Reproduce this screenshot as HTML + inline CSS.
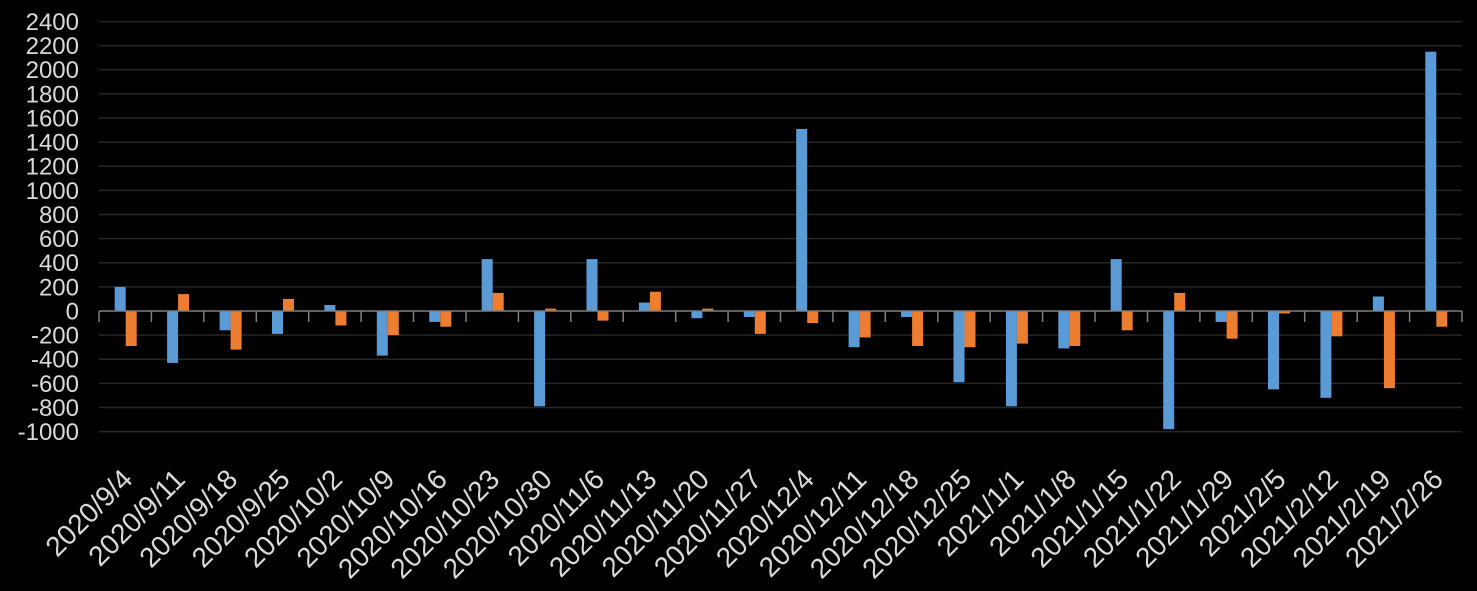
<!DOCTYPE html>
<html><head><meta charset="utf-8"><style>body{margin:0;background:#000}svg{display:block}</style></head>
<body>
<svg width="1477" height="591" xmlns="http://www.w3.org/2000/svg" font-family="Liberation Sans, sans-serif">
<rect width="1477" height="591" fill="#000"/>
<g stroke="#262626" stroke-width="1.5">
<line x1="99" x2="1462" y1="431.6" y2="431.6"/><line x1="99" x2="1462" y1="407.5" y2="407.5"/><line x1="99" x2="1462" y1="383.4" y2="383.4"/><line x1="99" x2="1462" y1="359.2" y2="359.2"/><line x1="99" x2="1462" y1="335.1" y2="335.1"/><line x1="99" x2="1462" y1="286.9" y2="286.9"/><line x1="99" x2="1462" y1="262.8" y2="262.8"/><line x1="99" x2="1462" y1="238.6" y2="238.6"/><line x1="99" x2="1462" y1="214.5" y2="214.5"/><line x1="99" x2="1462" y1="190.4" y2="190.4"/><line x1="99" x2="1462" y1="166.3" y2="166.3"/><line x1="99" x2="1462" y1="142.2" y2="142.2"/><line x1="99" x2="1462" y1="118" y2="118"/><line x1="99" x2="1462" y1="93.9" y2="93.9"/><line x1="99" x2="1462" y1="69.8" y2="69.8"/><line x1="99" x2="1462" y1="45.7" y2="45.7"/><line x1="99" x2="1462" y1="21.6" y2="21.6"/>
</g>
<g font-size="24" fill="#d9d9d9" text-anchor="end">
<text x="79" y="440">-1000</text><text x="79" y="415.9">-800</text><text x="79" y="391.8">-600</text><text x="79" y="367.6">-400</text><text x="79" y="343.5">-200</text><text x="79" y="319.4">0</text><text x="79" y="295.3">200</text><text x="79" y="271.2">400</text><text x="79" y="247">600</text><text x="79" y="222.9">800</text><text x="79" y="198.8">1000</text><text x="79" y="174.7">1200</text><text x="79" y="150.6">1400</text><text x="79" y="126.4">1600</text><text x="79" y="102.3">1800</text><text x="79" y="78.2">2000</text><text x="79" y="54.1">2200</text><text x="79" y="30">2400</text>
</g>
<g fill="#5b9bd5">
<rect x="114.7" y="286.9" width="11" height="24.1"/><rect x="167.1" y="311" width="11" height="51.9"/><rect x="219.6" y="311" width="11" height="19.3"/><rect x="272" y="311" width="11" height="22.9"/><rect x="324.4" y="305" width="11" height="6"/><rect x="376.8" y="311" width="11" height="44.6"/><rect x="429.3" y="311" width="11" height="10.9"/><rect x="481.7" y="259.1" width="11" height="51.9"/><rect x="534.1" y="311" width="11" height="95.3"/><rect x="586.5" y="259.1" width="11" height="51.9"/><rect x="638.9" y="302.6" width="11" height="8.4"/><rect x="691.4" y="311" width="11" height="7.2"/><rect x="743.8" y="311" width="11" height="6"/><rect x="796.2" y="128.9" width="11" height="182.1"/><rect x="848.6" y="311" width="11" height="36.2"/><rect x="901.1" y="311" width="11" height="6"/><rect x="953.5" y="311" width="11" height="71.2"/><rect x="1005.9" y="311" width="11" height="95.3"/><rect x="1058.3" y="311" width="11" height="37.4"/><rect x="1110.7" y="259.1" width="11" height="51.9"/><rect x="1163.2" y="311" width="11" height="118.2"/><rect x="1215.6" y="311" width="11" height="10.9"/><rect x="1268" y="311" width="11" height="78.4"/><rect x="1320.4" y="311" width="11" height="86.8"/><rect x="1372.9" y="296.5" width="11" height="14.5"/><rect x="1425.3" y="51.7" width="11" height="259.3"/>
</g>
<g fill="#ed7d31">
<rect x="125.7" y="311" width="11" height="35"/><rect x="178.1" y="294.1" width="11" height="16.9"/><rect x="230.6" y="311" width="11" height="38.6"/><rect x="283" y="298.9" width="11" height="12.1"/><rect x="335.4" y="311" width="11" height="14.5"/><rect x="387.8" y="311" width="11" height="24.1"/><rect x="440.3" y="311" width="11" height="15.7"/><rect x="492.7" y="292.9" width="11" height="18.1"/><rect x="545.1" y="308.6" width="11" height="2.4"/><rect x="597.5" y="311" width="11" height="9.6"/><rect x="649.9" y="291.7" width="11" height="19.3"/><rect x="702.4" y="308.6" width="11" height="2.4"/><rect x="754.8" y="311" width="11" height="22.9"/><rect x="807.2" y="311" width="11" height="12.1"/><rect x="859.6" y="311" width="11" height="26.5"/><rect x="912.1" y="311" width="11" height="35"/><rect x="964.5" y="311" width="11" height="36.2"/><rect x="1016.9" y="311" width="11" height="32.6"/><rect x="1069.3" y="311" width="11" height="35"/><rect x="1121.7" y="311" width="11" height="19.3"/><rect x="1174.2" y="292.9" width="11" height="18.1"/><rect x="1226.6" y="311" width="11" height="27.7"/><rect x="1279" y="311" width="11" height="2.4"/><rect x="1331.4" y="311" width="11" height="25.3"/><rect x="1383.9" y="311" width="11" height="77.2"/><rect x="1436.3" y="311" width="11" height="15.7"/>
</g>
<g stroke="#7f7f7f" stroke-width="1.5">
<line x1="99" x2="1462" y1="311" y2="311"/>
<line x1="99" x2="99" y1="311" y2="322"/><line x1="151.4" x2="151.4" y1="311" y2="322"/><line x1="203.8" x2="203.8" y1="311" y2="322"/><line x1="256.3" x2="256.3" y1="311" y2="322"/><line x1="308.7" x2="308.7" y1="311" y2="322"/><line x1="361.1" x2="361.1" y1="311" y2="322"/><line x1="413.5" x2="413.5" y1="311" y2="322"/><line x1="466" x2="466" y1="311" y2="322"/><line x1="518.4" x2="518.4" y1="311" y2="322"/><line x1="570.8" x2="570.8" y1="311" y2="322"/><line x1="623.2" x2="623.2" y1="311" y2="322"/><line x1="675.7" x2="675.7" y1="311" y2="322"/><line x1="728.1" x2="728.1" y1="311" y2="322"/><line x1="780.5" x2="780.5" y1="311" y2="322"/><line x1="832.9" x2="832.9" y1="311" y2="322"/><line x1="885.3" x2="885.3" y1="311" y2="322"/><line x1="937.8" x2="937.8" y1="311" y2="322"/><line x1="990.2" x2="990.2" y1="311" y2="322"/><line x1="1042.6" x2="1042.6" y1="311" y2="322"/><line x1="1095" x2="1095" y1="311" y2="322"/><line x1="1147.5" x2="1147.5" y1="311" y2="322"/><line x1="1199.9" x2="1199.9" y1="311" y2="322"/><line x1="1252.3" x2="1252.3" y1="311" y2="322"/><line x1="1304.7" x2="1304.7" y1="311" y2="322"/><line x1="1357.2" x2="1357.2" y1="311" y2="322"/><line x1="1409.6" x2="1409.6" y1="311" y2="322"/><line x1="1462" x2="1462" y1="311" y2="322"/>
</g>
<g font-size="28" fill="#d9d9d9" text-anchor="end">
<text transform="translate(134.2,481) rotate(-45)">2020/9/4</text>
<text transform="translate(186.6,481) rotate(-45)">2020/9/11</text>
<text transform="translate(239.1,481) rotate(-45)">2020/9/18</text>
<text transform="translate(291.5,481) rotate(-45)">2020/9/25</text>
<text transform="translate(343.9,481) rotate(-45)">2020/10/2</text>
<text transform="translate(396.3,481) rotate(-45)">2020/10/9</text>
<text transform="translate(448.8,481) rotate(-45)">2020/10/16</text>
<text transform="translate(501.2,481) rotate(-45)">2020/10/23</text>
<text transform="translate(553.6,481) rotate(-45)">2020/10/30</text>
<text transform="translate(606,481) rotate(-45)">2020/11/6</text>
<text transform="translate(658.4,481) rotate(-45)">2020/11/13</text>
<text transform="translate(710.9,481) rotate(-45)">2020/11/20</text>
<text transform="translate(763.3,481) rotate(-45)">2020/11/27</text>
<text transform="translate(815.7,481) rotate(-45)">2020/12/4</text>
<text transform="translate(868.1,481) rotate(-45)">2020/12/11</text>
<text transform="translate(920.6,481) rotate(-45)">2020/12/18</text>
<text transform="translate(973,481) rotate(-45)">2020/12/25</text>
<text transform="translate(1025.4,481) rotate(-45)">2021/1/1</text>
<text transform="translate(1077.8,481) rotate(-45)">2021/1/8</text>
<text transform="translate(1130.2,481) rotate(-45)">2021/1/15</text>
<text transform="translate(1182.7,481) rotate(-45)">2021/1/22</text>
<text transform="translate(1235.1,481) rotate(-45)">2021/1/29</text>
<text transform="translate(1287.5,481) rotate(-45)">2021/2/5</text>
<text transform="translate(1339.9,481) rotate(-45)">2021/2/12</text>
<text transform="translate(1392.4,481) rotate(-45)">2021/2/19</text>
<text transform="translate(1444.8,481) rotate(-45)">2021/2/26</text>
</g>
</svg>
</body></html>
